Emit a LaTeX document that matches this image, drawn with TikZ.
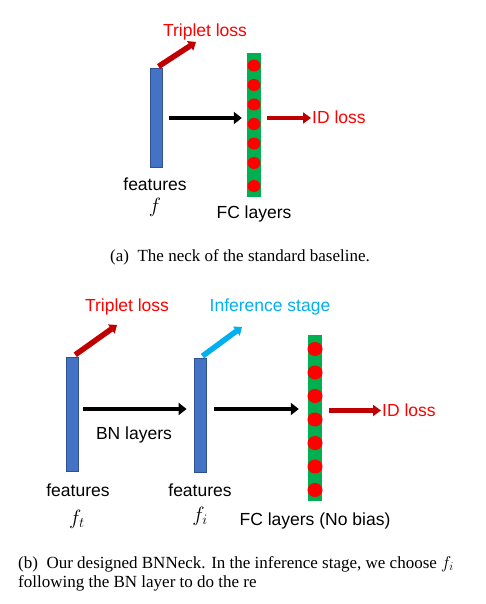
\documentclass[tikz,border=0pt]{standalone}
\usepackage{fontspec}
\setmainfont{Liberation Serif}
\setsansfont{Liberation Sans}
\usepackage{xcolor}
\usepackage{tikz}
\usetikzlibrary{arrows.meta,positioning,calc}
\definecolor{BarBlue}{HTML}{4472C4}
\definecolor{BarEdge}{HTML}{2F528F}
\definecolor{FcGreen}{HTML}{00B050}
\definecolor{DotRed}{HTML}{FF0000}
\definecolor{LossRed}{HTML}{C00000}
\definecolor{InfBlue}{HTML}{00B0F0}

\begin{document}
\begin{tikzpicture}[x=1pt,y=-1pt,
  feat/.style={draw=BarEdge,fill=BarBlue,line width=0.8pt,inner sep=0pt,minimum width=12pt},
  fc/.style={fill=FcGreen,inner sep=0pt,minimum width=14pt},
  lbl/.style={font=\sffamily\fontsize{17.5}{20}\selectfont,inner sep=1pt},
  sym/.style={font=\fontsize{22}{24}\selectfont,inner sep=1pt},
  captext/.style={font=\fontsize{17}{19.5}\selectfont,inner sep=0pt},
  blk/.style={-{Triangle[length=8pt,width=12pt]},line width=4.5pt,color=black},
  idarr/.style={-{Triangle[length=8pt,width=11pt]},line width=4.5pt,color=LossRed},
  diag/.style={-{Triangle[length=7pt,width=11pt]},line width=5.5pt}]
\useasboundingbox (0,0) rectangle (486,604);

% (a) standard baseline
\node[feat,minimum height=99pt] (fa) at (156,118) {};
\node[fc,minimum height=143pt] (fca) at (254,125) {};
\foreach \y in {65.5,85,104.5,124,143.5,163,186}
  \fill[DotRed] (254,\y) ellipse (6.5pt and 6pt);
\node[lbl,text=DotRed] (tripa) at (205,32) {Triplet loss};
\node[lbl,text=DotRed,anchor=west] (ida) at (311,117) {ID loss};
\node[lbl] (feata) at (155,184) {features};
\node[sym] (fsa) at (155,207) {$f$};
\node[lbl] (fclab) at (254,214) {FC layers};
\coordinate (tripA) at (196,42);
\draw[diag,color=LossRed,shorten <=3pt] (fa.north) -- (tripA);
\draw[blk,shorten <=7pt,shorten >=5pt] (fa.east |- 0,118) -- (fca.west |- 0,118);
\draw[idarr,shorten <=6pt] (fca.east |- 0,118) -- (ida.west |- 0,118);
\node[captext] (capa) at (240,257) {(a)\enspace The neck of the standard baseline.};

% (b) BNNeck
\node[feat,minimum height=114pt] (ft) at (72,414.5) {};
\node[feat,minimum height=114pt] (fi) at (200,415.3) {};
\node[fc,minimum height=166pt] (fcb) at (315,418) {};
\foreach \y in {349,372.5,396,419.5,443,466.5,490}
  \fill[DotRed] (315,\y) ellipse (7.5pt and 7pt);
\node[lbl,text=DotRed] (tripb) at (127,306.5) {Triplet loss};
\node[lbl,text=InfBlue] (inf) at (270,306.5) {Inference stage};
\node[lbl,text=DotRed,anchor=west] (idb) at (381,410) {ID loss};
\node[lbl] (bn) at (134,435) {BN layers};
\node[lbl] (featt) at (78,490) {features};
\node[sym] (fst) at (77,519) {$f_t$};
\node[lbl] (feati) at (200,490) {features};
\node[sym] (fsi) at (200,516) {$f_i$};
\node[lbl] (fcblab) at (315,521) {FC layers (No bias)};
\coordinate (tripB) at (117,325);
\coordinate (infB) at (242,327);
\draw[diag,color=LossRed,shorten <=4pt] (ft.north) -- (tripB);
\draw[diag,color=InfBlue,shorten <=3pt] (fi.north) -- (infB);
\draw[blk,shorten <=5pt,shorten >=7pt] (ft.east |- 0,409) -- (fi.west |- 0,409);
\draw[blk,shorten <=8pt,shorten >=9pt] (fi.east |- 0,409) -- (fcb.west |- 0,409);
\draw[idarr,shorten <=7pt] (fcb.east |- 0,410.5) -- (idb.west |- 0,410.5);
\node[captext,anchor=north west,align=left] (capb) at (18,556)
  {(b)\enspace Our designed BNNeck. In the inference stage, we choose $f_i$\\
   following the BN layer to do the re};
\end{tikzpicture}
\end{document}
